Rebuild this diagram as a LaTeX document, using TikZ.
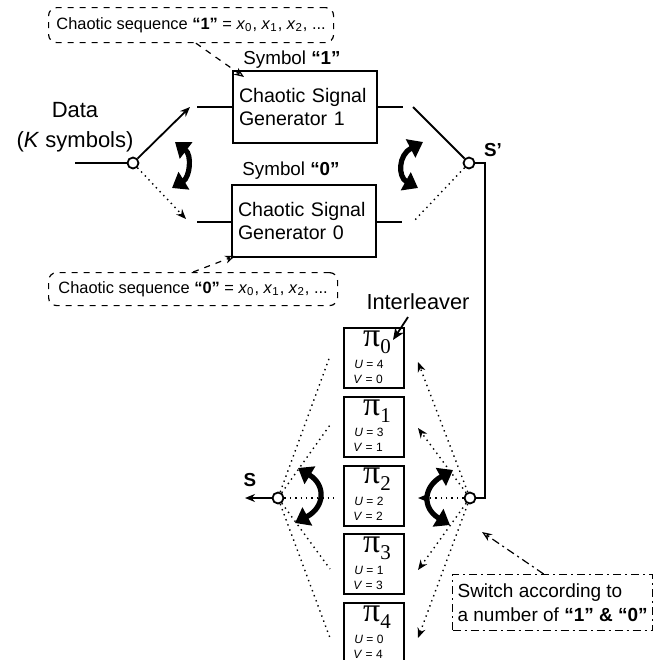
\documentclass[tikz,border=0pt]{standalone}
\usepackage{fontspec}
\setmainfont{Liberation Sans}
\newfontfamily\pifont{Liberation Serif}
\usetikzlibrary{arrows.meta}

\tikzset{
	gen/.style={draw, line width=1pt, minimum width=72pt, minimum height=36pt,
		text width=66pt, inner xsep=3pt, align=left, font=\fontsize{9.8}{11.5}\selectfont},
	ilv/.style={draw, line width=1pt, minimum width=30pt, minimum height=30pt},
	sw/.style={circle, draw, fill=white, line width=0.9pt, inner sep=0pt, minimum size=5.5pt},
	wire/.style={line width=0.9pt},
	dots/.style={dotted, line width=0.7pt},
	seqbox/.style={draw, dashed, rounded corners=4pt, line width=0.6pt, inner xsep=2pt,
		font=\fontsize{8.2}{10}\selectfont},
	swing/.style={line width=2.6pt, {Triangle[width=10pt,length=7pt]}-{Triangle[width=10pt,length=7pt]}},
	tip/.style={-{Stealth[length=5pt,width=4pt]}},
	opentip/.style={-{Stealth[open,length=5pt,width=4pt]}},
}

\begin{document}
\begin{tikzpicture}[x=0.5pt,y=-0.5pt]
	\useasboundingbox (0,0) rectangle (655,660);

	% sequence notes
	\node[seqbox, anchor=north west, minimum width=142.5pt, minimum height=17.5pt] (seqone) at (48,7)
		{Chaotic sequence \textbf{“1”} = \textit{x}\textsubscript{0}, \textit{x}\textsubscript{1}, \textit{x}\textsubscript{2}, ...};
	\node[seqbox, anchor=north west, minimum width=144.5pt, minimum height=16.5pt] (seqzero) at (48,272)
		{Chaotic sequence \textbf{“0”} = \textit{x}\textsubscript{0}, \textit{x}\textsubscript{1}, \textit{x}\textsubscript{2}, ...};

	% generators
	\node[gen] (gen1) at (305,107) {Chaotic Signal\\Generator 1};
	\node[gen] (gen0) at (304,221) {Chaotic Signal\\Generator 0};
	\node[font=\fontsize{9.4}{11}\selectfont] at (292,60) {Symbol \textbf{“1”}};
	\node[font=\fontsize{9.4}{11}\selectfont] at (291,171) {Symbol \textbf{“0”}};

	\draw[dashed, line width=0.6pt, opentip] (seqone.-75) -- ([shift={(6pt,-3.5pt)}]gen1.north west);
	\draw[dashed, line width=0.6pt, opentip] (seqzero.north) -- ([shift={(2pt,1pt)}]gen0.south west);

	% input switch
	\node[font=\fontsize{11}{15}\selectfont, align=center] (data) at (75,127) {Data\\(\textit{K} symbols)};
	\node[sw] (swin) at (133,163) {};
	\coordinate (datain) at (75,163);
	\coordinate (up1) at (190,107);
	\coordinate (dn0) at (186,219);
	\draw[wire] (datain) -- (swin);
	\draw[wire, tip] (swin) -- (up1);
	\draw[dots, tip] (swin) -- (dn0);
	\draw[swing] (175,142) .. controls (192,155) and (190,177) .. (172,188);

	\draw[wire] (197,107) -- (gen1.west);
	\draw[wire] (197,222) -- (gen0.west |- 0,222);
	\draw[wire] (gen1.east) -- (403,107);
	\draw[wire] (gen0.east |- 0,222) -- (402,222);

	% output switch S'
	\node[sw] (swout) at (469,163) {};
	\node[font=\bfseries\fontsize{9.4}{11}\selectfont] at (493,150) {S'};
	\draw[wire] (swout) -- (413,107);
	\draw[dots] (swout) -- (413,222);
	\draw[swing] (423,142) .. controls (398,155) and (398,177) .. (418,188);

	% interleavers
	\foreach \k/\u in {0/4,1/3,2/2,3/1,4/0} {
		\pgfmathsetmacro\yy{358+68.75*\k}
		\node[ilv] (pi\k) at (374,\yy) {};
		\node[inner sep=0pt] at (377,\yy-16) {\pifont\fontsize{17}{17}\selectfont π\raisebox{-3.5pt}{\fontsize{10.5}{10.5}\selectfont\k}};
		\node[anchor=west, inner sep=0pt, font=\fontsize{6}{6}\selectfont] at (354,\yy+6) {\textit{U} = \u};
		\node[anchor=west, inner sep=0pt, font=\fontsize{6}{6}\selectfont] at (353,\yy+21) {\textit{V} = \k};
	}
	\node[font=\fontsize{10.9}{12}\selectfont] (ilvlabel) at (418,302) {Interleaver};
	\draw[wire, -{Stealth[length=6pt,width=5pt]}] ([xshift=-5pt]ilvlabel.south) -- (393,340);

	% switches round the interleavers
	\node[sw] (swR) at (470,498) {};
	\node[sw] (swS) at (278,498) {};
	\draw[wire] (swout) -- (485,163) -- (485,498) -- (swR);
	\foreach \k/\ty in {0/362,1/428,2/498,3/570,4/638} {
		\coordinate (r\k) at (418,\ty);
		\draw[dots, tip] (swR) -- (r\k);
	}
	\foreach \k/\ty/\tx in {0/356/330,1/425/330,2/498/335,3/569/330,4/638/330} {
		\coordinate (l\k) at (\tx,\ty);
		\draw[dots] (swS) -- (l\k);
	}
	\coordinate (sout) at (245,498);
	\draw[wire, line width=1.3pt, tip] (swS) -- (sout);
	\node[font=\bfseries\fontsize{9.4}{11}\selectfont] at (250,480) {S};
	\draw[swing] (298,468) .. controls (326,485) and (325,507) .. (295,523);
	\draw[swing] (453,470) .. controls (423,487) and (422,508) .. (450,525);

	% switching note
	\node[draw, dash pattern=on 4pt off 2pt on 1pt off 2pt, line width=0.6pt, anchor=north west,
		minimum width=100pt, minimum height=28pt, inner xsep=2.5pt, align=left,
		font=\fontsize{9.5}{12}\selectfont] (swnote) at (452,574)
		{Switch according to\\a number of \textbf{“1” \& “0”}};
	\draw[dash pattern=on 4pt off 2pt on 1pt off 2pt, line width=0.6pt, opentip] ([xshift=-4.5pt]swnote.north) -- (482,532);
\end{tikzpicture}
\end{document}
